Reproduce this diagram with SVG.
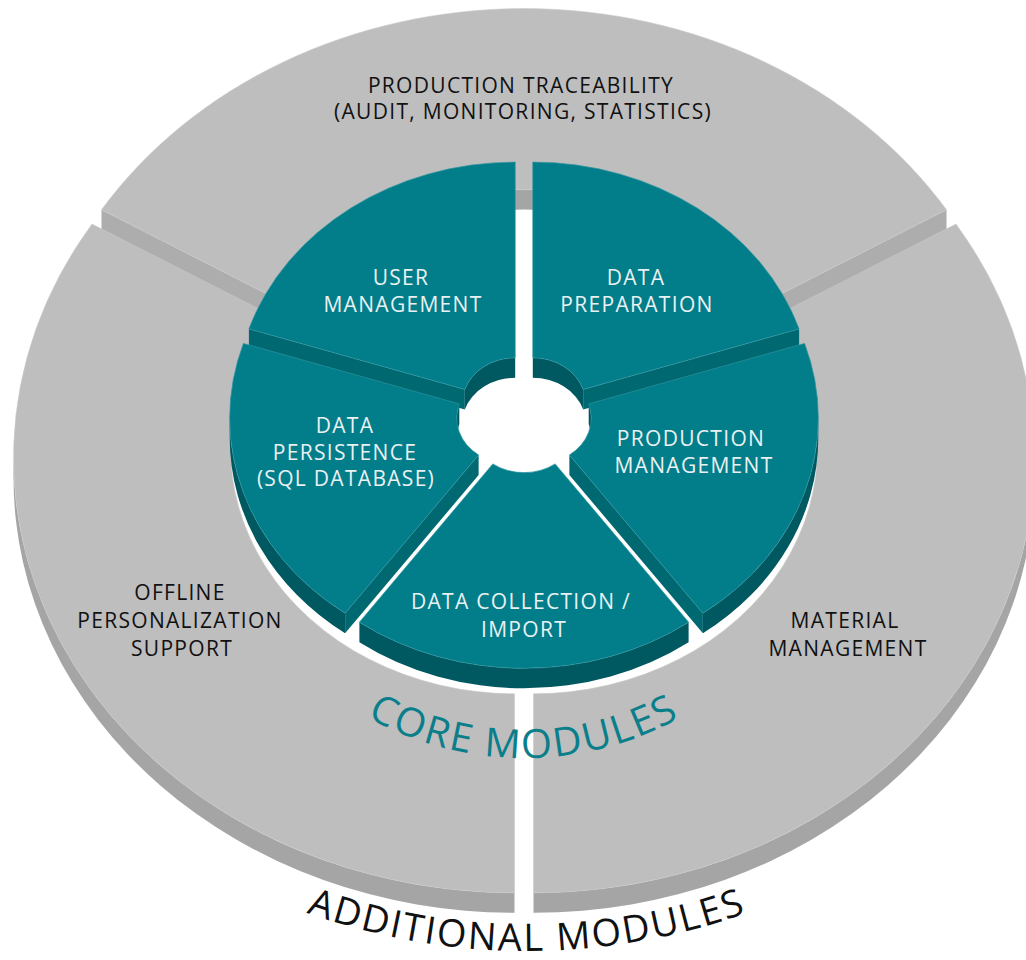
<svg xmlns="http://www.w3.org/2000/svg" width="1026" height="960" viewBox="0 0 1026 960">
<defs>
<style>
.g-top{fill:#bebebe;stroke:#cacaca;stroke-width:0.6}
.g-cut{fill:#adadad}
.g-wall{fill:#a5a5a5}
.t-top{fill:#027d8a;stroke:#2d959f;stroke-width:0.7}
.t-cut{fill:#006871}
.t-wall{fill:#005861}
.lbl{font-family:"Open Sans","Liberation Sans",sans-serif;font-size:21px;letter-spacing:1.3px;text-anchor:middle}
.w{fill:#e9f1f2}
.k{fill:#111111}
.arc{font-family:"Open Sans","Liberation Sans",sans-serif;text-anchor:middle}
</style>
<path id="coreArc" d="M 202,436 A 322 322 0 0 0 846,436"/>
<path id="addArc" d="M -126,298 A 653 653 0 0 0 1180,298"/>
</defs>

<g id="ring-traceability">
<path class="g-wall" d="M 284.5,302.9 A 284 245 0 0 1 763.5,302.9 L 763.5,322.9 A 284 245 0 0 0 284.5,322.9 Z"/>
<path class="g-cut" d="M 101.5,209.8 L 284.5,302.9 L 284.5,322.9 L 101.5,229.8 Z"/>
<path class="g-cut" d="M 946.5,209.8 L 763.5,302.9 L 763.5,322.9 L 946.5,229.8 Z"/>
<path class="g-top" d="M 946.5,209.8 A 501 435 0 0 0 101.5,209.8 L 284.5,302.9 A 284 245 0 0 1 763.5,302.9 Z"/>
<text class="lbl k" x="521" y="93">PRODUCTION TRACEABILITY</text>
<text class="lbl k" x="523" y="119">(AUDIT, MONITORING, STATISTICS)</text>
</g>

<g id="ring-offline">
<path class="g-wall" d="M 13.5,457.8 A 501 435 0 0 0 514.5,892.8 L 514.5,912.8 A 501 435 0 0 1 13.5,477.8 Z"/>
<path class="g-top" d="M 92,224.1 A 501 435 0 0 0 514.5,892.8 L 514.5,693.8 A 284 245 0 0 1 275,317.2 Z"/>
<text class="lbl k" x="180" y="600">OFFLINE</text>
<text class="lbl k" x="180" y="628">PERSONALIZATION</text>
<text class="lbl k" x="182" y="656">SUPPORT</text>
</g>

<g id="ring-material">
<path class="g-wall" d="M 533.5,892.8 A 501 435 0 0 0 1034.5,457.8 L 1034.5,477.8 A 501 435 0 0 1 533.5,912.8 Z"/>
<path class="g-top" d="M 533.5,892.8 A 501 435 0 0 0 956,224.1 L 773,317.2 A 284 245 0 0 1 533.5,693.8 Z"/>
<text class="lbl k" x="845" y="628">MATERIAL</text>
<text class="lbl k" x="848" y="656">MANAGEMENT</text>
</g>

<g id="core-data-preparation">
<path class="t-cut" d="M 799.1,328.9 L 583.2,389.4 L 583.2,409.4 L 799.1,348.9 Z"/>
<path class="t-wall" d="M 583.2,389.4 A 53 45.69 0 0 0 532.8,357.8 L 532.8,377.8 A 53 45.69 0 0 1 583.2,409.4 Z"/>
<path class="t-top" d="M 799.1,328.9 A 280 241.36 0 0 0 532.8,162.1 L 532.8,357.8 A 53 45.69 0 0 1 583.2,389.4 Z"/>
<text class="lbl w" x="636" y="285">DATA</text>
<text class="lbl w" x="637" y="312">PREPARATION</text>
</g>

<g id="core-user-management">
<path class="t-cut" d="M 248.9,328.9 L 464.8,389.4 L 464.8,409.4 L 248.9,348.9 Z"/>
<path class="t-wall" d="M 515.2,357.8 A 53 45.69 0 0 0 464.8,389.4 L 464.8,409.4 A 53 45.69 0 0 1 515.2,377.8 Z"/>
<path class="t-top" d="M 515.2,162.1 A 280 241.36 0 0 0 248.9,328.9 L 464.8,389.4 A 53 45.69 0 0 1 515.2,357.8 Z"/>
<text class="lbl w" x="401" y="285">USER</text>
<text class="lbl w" x="403" y="312">MANAGEMENT</text>
</g>

<g id="core-data-persistence">
<path class="t-wall" d="M 229.7,418 A 280 241.36 0 0 0 345.1,613.3 L 345.1,633.3 A 280 241.36 0 0 1 229.7,438 Z"/>
<path class="t-cut" d="M 345.1,613.3 L 478.6,455 L 478.6,475 L 345.1,633.3 Z"/>
<path class="t-wall" d="M 459.3,403.9 A 53 45.69 0 0 0 456.7,418 L 456.7,438 A 53 45.69 0 0 1 459.3,423.9 Z"/>
<path class="t-top" d="M 243.4,343.4 A 280 241.36 0 0 0 345.1,613.3 L 478.6,455 A 53 45.69 0 0 1 459.3,403.9 Z"/>
<text class="lbl w" x="345" y="433">DATA</text>
<text class="lbl w" x="345" y="460">PERSISTENCE</text>
<text class="lbl w" x="346" y="486">(SQL DATABASE)</text>
</g>

<g id="core-production-management">
<path class="t-wall" d="M 702.9,613.3 A 280 241.36 0 0 0 818.3,418 L 818.3,438 A 280 241.36 0 0 1 702.9,633.3 Z"/>
<path class="t-cut" d="M 702.9,613.3 L 569.4,455 L 569.4,475 L 702.9,633.3 Z"/>
<path class="t-wall" d="M 591.3,418 A 53 45.69 0 0 0 588.7,403.9 L 588.7,423.9 A 53 45.69 0 0 1 591.3,438 Z"/>
<path class="t-top" d="M 702.9,613.3 A 280 241.36 0 0 0 804.6,343.4 L 588.7,403.9 A 53 45.69 0 0 1 569.4,455 Z"/>
<text class="lbl w" x="691" y="446">PRODUCTION</text>
<text class="lbl w" x="694" y="473">MANAGEMENT</text>
</g>

<g id="core-data-collection">
<path class="t-wall" d="M 359.4,622.2 A 280 241.36 0 0 0 688.6,622.2 L 688.6,642.2 A 280 241.36 0 0 1 359.4,642.2 Z"/>
<path class="t-top" d="M 359.4,622.2 A 280 241.36 0 0 0 688.6,622.2 L 555.15,463.9 A 53 45.69 0 0 1 492.85,463.9 Z"/>
<text class="lbl w" x="521" y="609">DATA COLLECTION /</text>
<text class="lbl w" x="524" y="637">IMPORT</text>
</g>

<g id="title-core">
<text class="arc" font-size="40" letter-spacing="2" fill="#0a7e8b"><textPath href="#coreArc" startOffset="50%">CORE MODULES</textPath></text>
</g>
<g id="title-additional">
<text class="arc" font-size="38" letter-spacing="2" fill="#111111"><textPath href="#addArc" startOffset="50%">ADDITIONAL MODULES</textPath></text>
</g>
</svg>
